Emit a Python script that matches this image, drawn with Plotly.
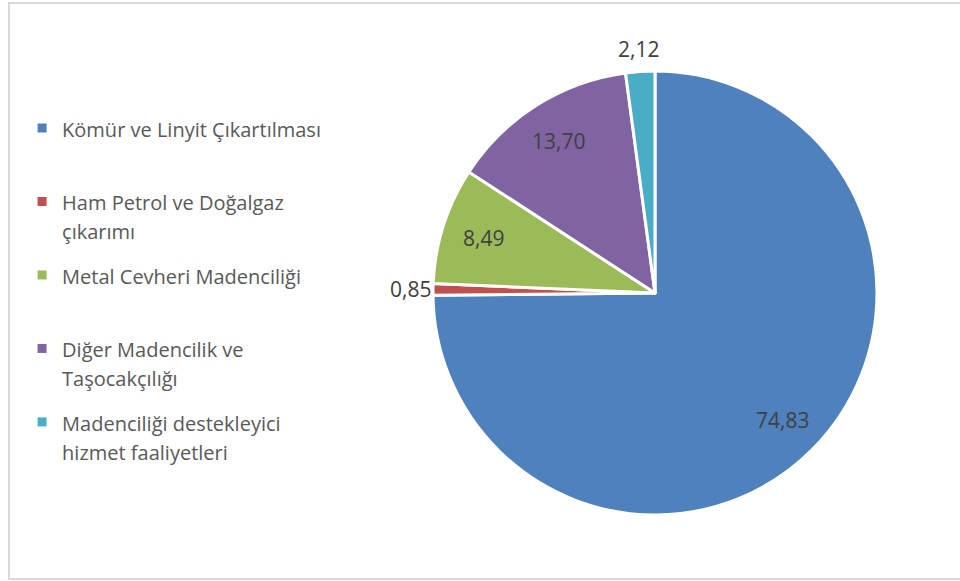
import math
import plotly.graph_objects as go

# Madencilik sektörü alt kollarının payları (%)
categories = [
    "Kömür ve Linyit Çıkartılması",
    "Ham Petrol ve Doğalgaz<br>çıkarımı",
    "Metal Cevheri Madenciliği",
    "Diğer Madencilik ve<br>Taşocakçılığı",
    "Madenciliği destekleyici<br>hizmet faaliyetleri",
]
values = [74.83, 0.85, 8.49, 13.70, 2.12]
colors = ["#4F81BD", "#C0504D", "#9BBB59", "#8064A2", "#4BACC6"]
label_inside = [True, False, True, True, False]

W, H = 960, 581
# pie box in pixels (left, right, top, bottom)
px0, px1, py0, py1 = 433, 877, 71, 515
cx, cy = (px0 + px1) / 2, (py0 + py1) / 2
R = (px1 - px0) / 2

fig = go.Figure()
fig.add_trace(go.Pie(
    labels=[c.replace("<br>", " ") for c in categories],
    values=values,
    textinfo="none",
    sort=False,
    direction="clockwise",
    rotation=0,
    marker=dict(colors=colors, line=dict(color="white", width=3)),
    domain=dict(x=[px0 / W, px1 / W], y=[1 - py1 / H, 1 - py0 / H]),
    hoverinfo="label+percent",
    showlegend=False,
))

# legend: one entry per slice, each in its own group so the gaps match Excel
for i, (c, col) in enumerate(zip(categories, colors)):
    n = c.count("<br>") + 1
    txt = "<br>".join(f"<span style='font-size:20px'>{p}</span>" for p in c.split("<br>"))
    fig.add_trace(go.Scatter(
        x=[None], y=[None], mode="markers", name=txt + "<br> " * (2 - n),
        marker=dict(symbol="square", size=9, color=col),
        legendgroup=f"g{i}", hoverinfo="skip",
    ))

# data labels, Turkish decimal comma, placed on each slice's mid angle
total = sum(values)
cum = 0
annotations = []
for v, inside in zip(values, label_inside):
    mid = (cum + v / 2) / total * 2 * math.pi
    cum += v
    r = R * (0.81 if inside else 1.10)
    x = cx + r * math.sin(mid)
    y = cy - r * math.cos(mid)
    annotations.append(dict(
        x=x / W, y=1 - y / H, xref="paper", yref="paper",
        xanchor="center", yanchor="middle",
        text=f"{v:.2f}".replace(".", ","), showarrow=False,
        font=dict(family="Open Sans", size=21, color="#404040"),
    ))

fig.update_layout(
    width=W, height=H,
    margin=dict(l=0, r=0, t=0, b=0),
    paper_bgcolor="white",
    plot_bgcolor="white",
    font=dict(family="Open Sans", color="#595959"),
    xaxis=dict(visible=False, domain=[0, 0.01]),
    yaxis=dict(visible=False, domain=[0, 0.01]),
    showlegend=True,
    legend=dict(
        x=0.023, y=1 - 107 / H, xanchor="left", yanchor="top",
        valign="top", font=dict(size=22.3, color="#595959", family="Open Sans"),
        itemwidth=30, traceorder="grouped", tracegroupgap=12.5,
    ),
    annotations=annotations,
    shapes=[dict(type="rect", xref="paper", yref="paper",
                 x0=9 / W, x1=1.01, y0=1 - 579 / H, y1=1 - 3 / H,
                 line=dict(color="#D9D9D9", width=2))],
)

fig.write_html("out.html", config={"displayModeBar": False},
               post_script="document.body.style.margin='0';")
